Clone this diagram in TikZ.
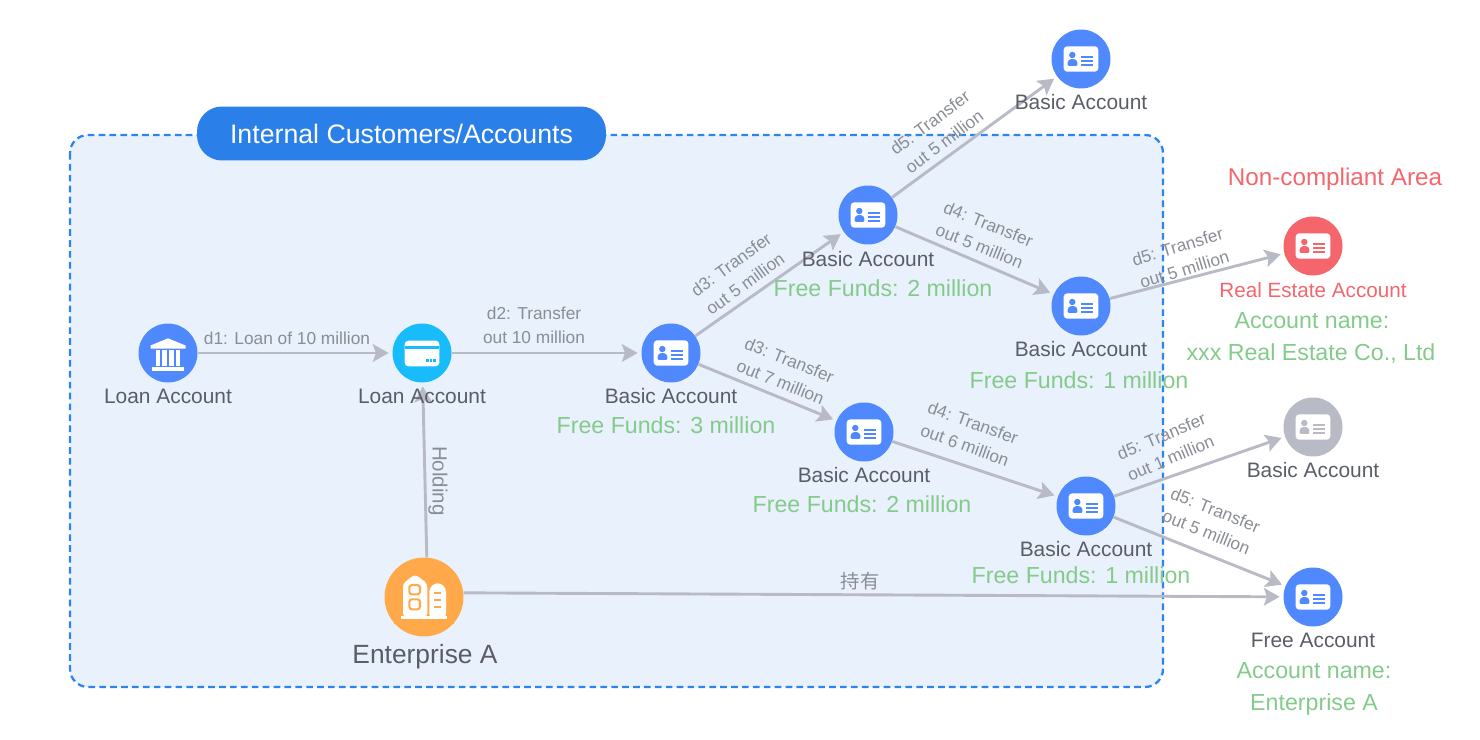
\documentclass[tikz,border=0pt]{standalone}
\usepackage{fontspec}
\setmainfont{Liberation Sans}
\newfontfamily\cjkfont{Noto Sans CJK SC}
\usetikzlibrary{arrows.meta}
\definecolor{acctblue}{HTML}{4F89FD}
\definecolor{acctcyan}{HTML}{18BCFB}
\definecolor{acctgray}{HTML}{B8BBC6}
\definecolor{acctred}{HTML}{F4666B}
\definecolor{entorange}{HTML}{FFA94A}
\definecolor{zonefill}{HTML}{E9F1FC}
\definecolor{zoneline}{HTML}{2B84F0}
\definecolor{pillblue}{HTML}{2B7FE9}
\definecolor{linkgray}{HTML}{B8BBC6}
\definecolor{labelgray}{HTML}{8A8D94}
\definecolor{namedark}{HTML}{5A5D66}
\definecolor{fundgreen}{HTML}{84CB8B}
\tikzset{
	acct/.style={circle,fill=#1,minimum size=1.18cm,inner sep=0pt},
	namelbl/.style={text=namedark,font=\fontsize{11.9}{14}\selectfont},
	fundlbl/.style={text=fundgreen,font=\fontsize{13.2}{15}\selectfont},
	linklbl/.style={text=labelgray,align=center,font=\fontsize{9.85}{13.5}\selectfont},
	link/.style={draw=linkgray,line width=1.65pt,shorten >=2pt,-{Stealth[length=9pt,width=10pt,inset=1.8pt]}},
	pics/idcard/.style={code={
		\fill[white,rounded corners=2pt] (-17.3,-12.7) rectangle (17.3,12.7);
		\fill[#1] (-8.7,-4) circle (3.2);
		\fill[#1,rounded corners=0.6pt] (-13.3,6.8) -- (-13.3,2.5) -- (-11,0.2) -- (-6,0.2) -- (-3.7,2.5) -- (-3.7,6.8) -- cycle;
		\fill[#1] (0.3,-2.6) rectangle (12,-0.6);
		\fill[#1] (0.3,1.2) rectangle (12,3.2);
		\fill[#1] (0.3,4.8) rectangle (12,6.8);
	}},
	pics/bankicon/.style={code={
		\fill[white] (-17.5,-4.5) -- (-17.5,-7.5) -- (0,-14.7) -- (17.5,-7.5) -- (17.5,-4.5) -- cycle;
		\foreach \colx in {-12.5,-5.8,1,7.8}
			\fill[white] (\colx,-3) rectangle ++(4.6,16);
		\fill[white] (-16,14.3) rectangle (16,17.7);
	}},
	pics/cardicon/.style={code={
		\fill[white,rounded corners=2pt] (-17.3,-12.3) rectangle (17.3,13.3);
		\fill[acctcyan] (-17.3,-7.3) rectangle (17.3,-4.5);
		\foreach \dotx in {4.3,7.7,11.1}
			\fill[acctcyan] (\dotx,6) rectangle ++(2.6,2.7);
	}},
	pics/buildicon/.style={code={
		\fill[white] (-22.7,19) rectangle (23.3,21.7);
		\fill[white,rounded corners=2pt] (-21,20) -- (-21,-13.5) -- (-9,-22.7) -- (3.3,-13.5) -- (3.3,20) -- cycle;
		\fill[white,rounded corners=5pt] (5.3,25) -- (5.3,-13.7) -- (22,-13.7) -- (22,25) -- cycle;
		\fill[entorange] (-30,21.7) rectangle (30,27);
		\draw[entorange,line width=1.2pt,rounded corners=1.5pt] (-14.7,-12) rectangle (-4,-2.7);
		\draw[entorange,line width=1.2pt,rounded corners=1.5pt] (-14.7,2.3) rectangle (-4,12.3);
		\fill[entorange] (10,-5.3) rectangle (16.7,-3.3);
		\fill[entorange] (10,2) rectangle (16.7,4);
		\fill[entorange] (10,9.3) rectangle (16.7,11.3);
	}}
}
\begin{document}
\begin{tikzpicture}[x=0.02cm,y=-0.02cm]
	\useasboundingbox (0,0) rectangle (1480,740);
	\draw[fill=zonefill,draw=zoneline,line width=1.3pt,dash pattern=on 3.8pt off 2.4pt,rounded corners=0.36cm] (70,135) rectangle (1163,687);
	\node[fill=pillblue,rounded corners=0.5cm,minimum width=8.18cm,minimum height=1.08cm,inner sep=0pt,text=white,font=\fontsize{15.2}{18}\selectfont] (zoneTitle) at (401.5,133.5) {Internal Customers/Accounts};

	\node[acct=acctblue] (loanBank) at (168,353) {};
	\node[acct=acctcyan] (loanCard) at (422,353) {};
	\node[acct=acctblue] (basicMid) at (671,353) {};
	\node[acct=acctblue] (basicUp) at (868,215) {};
	\node[acct=acctblue] (basicTop) at (1081,59) {};
	\node[acct=acctblue] (basicRight) at (1081,306) {};
	\node[acct=acctblue] (basicLow) at (864,432) {};
	\node[acct=acctblue] (basicEnd) at (1086,506) {};
	\node[acct=acctred] (realEstate) at (1313,246) {};
	\node[acct=acctgray] (basicGray) at (1313,427) {};
	\node[acct=acctblue] (freeAcct) at (1313,597) {};
	\node[circle,fill=entorange,minimum size=1.58cm,inner sep=0pt] (entA) at (424,597) {};

	\draw[link] (loanBank) -- (loanCard);
	\draw[link] (loanCard) -- (basicMid);
	\draw[link] (basicMid) -- (basicUp);
	\draw[link] (basicMid) -- (basicLow);
	\draw[link] (basicUp) -- (basicTop);
	\draw[link] (basicUp) -- (basicRight);
	\draw[link] (basicLow) -- (basicEnd);
	\draw[link] (basicRight) -- (realEstate);
	\draw[link] (basicEnd) -- (basicGray);
	\draw[link] (basicEnd) -- (freeAcct);
	\draw[link] (entA.86) -- (loanCard);
	\draw[link] (entA.6) -- (freeAcct);

	\pic at (loanBank) {bankicon};
	\pic at (loanCard) {cardicon};
	\pic at (basicMid) {idcard=acctblue};
	\pic at (basicUp) {idcard=acctblue};
	\pic at (basicTop) {idcard=acctblue};
	\pic at (basicRight) {idcard=acctblue};
	\pic at (basicLow) {idcard=acctblue};
	\pic at (basicEnd) {idcard=acctblue};
	\pic at (realEstate) {idcard=acctred};
	\pic at (basicGray) {idcard=acctgray};
	\pic at (freeAcct) {idcard=acctblue};
	\pic at (entA) {buildicon};

	\node[namelbl] (nameBank) at (168,396.5) {Loan Account};
	\node[namelbl] (nameCard) at (422,396.5) {Loan Account};
	\node[namelbl] (nameMid) at (671,396.5) {Basic Account};
	\node[namelbl] (nameUp) at (868,259) {Basic Account};
	\node[namelbl] (nameTop) at (1081,102.5) {Basic Account};
	\node[namelbl] (nameRight) at (1081,349.5) {Basic Account};
	\node[namelbl] (nameLow) at (864,475.5) {Basic Account};
	\node[namelbl] (nameEnd) at (1086,549.5) {Basic Account};
	\node[namelbl] (nameGray) at (1313,470.5) {Basic Account};
	\node[namelbl] (nameFree) at (1313,640.5) {Free Account};
	\node[text=namedark,font=\fontsize{15}{18}\selectfont] (nameEnt) at (425,657) {Enterprise A};
	\node[text=acctred,font=\fontsize{11.75}{14}\selectfont] (nameReal) at (1313,290.5) {Real Estate Account};
	\node[text=acctred,font=\fontsize{13.8}{16}\selectfont] (zoneRed) at (1335,179) {Non-compliant Area};

	\node[fundlbl] (fundMid) at (666,425) {Free Funds: 3 million};
	\node[fundlbl] (fundUp) at (883,288) {Free Funds: 2 million};
	\node[fundlbl] (fundRight) at (1079,380) {Free Funds: 1 million};
	\node[fundlbl] (fundLow) at (862,504) {Free Funds: 2 million};
	\node[fundlbl] (fundEnd) at (1081,575) {Free Funds: 1 million};
	\node[fundlbl] (ownReal) at (1312,321) {Account name:};
	\node[fundlbl] (ownRealName) at (1311,353.5) {xxx Real Estate Co., Ltd};
	\node[fundlbl] (ownFree) at (1314,671) {Account name:};
	\node[fundlbl] (ownFreeName) at (1314,704.5) {Enterprise A};

	\node[linklbl] (txtLoan) at (287,338) {d1: Loan of 10 million};
	\node[linklbl] (txtOut10) at (534,325) {d2: Transfer\\out 10 million};
	\node[linklbl,rotate=36] (txtUp) at (738,274) {d3: Transfer\\out 5 million};
	\node[linklbl,rotate=-22] (txtDown) at (785,371) {d3: Transfer\\out 7 million};
	\node[linklbl,rotate=37] (txtTop) at (937,132) {d5: Transfer\\out 5 million};
	\node[linklbl,rotate=-22] (txtRight) at (984,235) {d4: Transfer\\out 5 million};
	\node[linklbl,rotate=-20] (txtLow) at (969,434) {d4: Transfer\\out 6 million};
	\node[linklbl,rotate=17] (txtReal) at (1181,258) {d5: Transfer\\out 5 million};
	\node[linklbl,rotate=23] (txtGray) at (1166,447) {d5: Transfer\\out 1 million};
	\node[linklbl,rotate=-22] (txtFree) at (1211,521) {d5: Transfer\\out 5 million};
	\node[linklbl,rotate=-90,font=\fontsize{11.7}{14}\selectfont] (txtHold) at (438,481) {Holding};
	\node[linklbl,font=\cjkfont\fontsize{11}{13}\selectfont] (txtOwn) at (860,581) {持有};
\end{tikzpicture}
\end{document}
